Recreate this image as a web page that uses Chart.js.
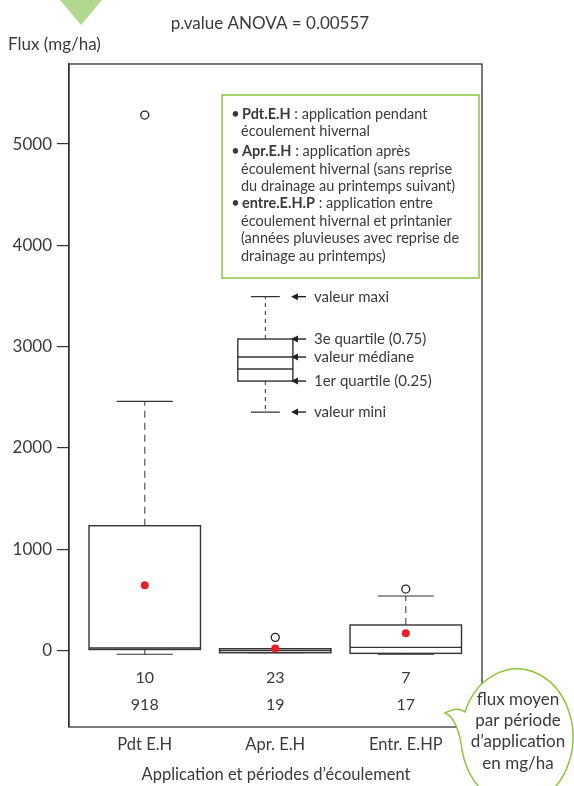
<!DOCTYPE html>
<html lang="fr">
<head>
<meta charset="utf-8">
<title>Flux par période d’application</title>
<script src="https://cdn.jsdelivr.net/npm/chart.js@4/dist/chart.umd.min.js"></script>
<style>
  html, body { margin: 0; padding: 0; background: #fff; }
  #wrap { position: relative; width: 574px; height: 786px; }
</style>
</head>
<body>
<div id="wrap"><canvas id="c" width="574" height="786"></canvas></div>
<script>
// Categories and box statistics (mg/ha)
const categories   = ['Pdt E.H', 'Apr. E.H', 'Entr. E.HP'];
const whiskerLow   = [-37, -22, -37];
const q1Values     = [10, -22, -28];
const medianValues = [25, 0, 31];
const q3Values     = [1232, 18, 252];
const whiskerHigh  = [2460, 18, 538];
const meanValues   = [644, 19, 170];
const outlierValues = [[5286], [130], [607]];
const countLabels  = ['10', '23', '7'];
const meanFluxLabels = ['918', '19', '17'];

// Y axis ticks
const yTicks = [0, 1000, 2000, 3000, 4000, 5000];

// Explanatory boxplot drawn inside the plot (values on the same y scale)
const exampleStats = { low: 2354, q1: 2660, median: 2897, extra: 2779, q3: 3075, high: 3493 };
const exampleLabels = [
  { text: 'valeur maxi', value: 3493 },
  { text: '3e quartile (0.75)', value: 3075 },
  { text: 'valeur médiane', value: 2897 },
  { text: '1er quartile (0.25)', value: 2660 },
  { text: 'valeur mini', value: 2354 }
];

// Legend text: [bold term, rest of line]
const legendLines = [
  ['Pdt.E.H', ' : application pendant'],
  [null, 'écoulement hivernal'],
  ['Apr.E.H', ' : application après'],
  [null, 'écoulement hivernal (sans reprise'],
  [null, 'du drainage au printemps suivant)'],
  ['entre.E.H.P', ' : application entre'],
  [null, 'écoulement hivernal et printanier'],
  [null, '(années pluvieuses avec reprise de'],
  [null, 'drainage au printemps)']
];
const bubbleLines = ['flux moyen', 'par période', 'd’application', 'en mg/ha'];

const FONT = 'Lato, "Open Sans", sans-serif';
const TEXT = '#3a3a3a';
const GREEN = '#8cc63f';

const outlierPoints = [];
outlierValues.forEach((arr, i) => arr.forEach(v => outlierPoints.push({ x: i + 1, y: v })));
const meanPoints = meanValues.map((v, i) => ({ x: i + 1, y: v }));

const boxPlugin = {
  id: 'boxes',
  beforeDatasetsDraw(chart) {
    const { ctx, scales: { x, y } } = chart;
    const drawBox = (cx, half, capHalf, s, dash, extraLine) => {
      const xl = x.getPixelForValue(cx - half), xr = x.getPixelForValue(cx + half);
      const xc = x.getPixelForValue(cx);
      const cl = x.getPixelForValue(cx - capHalf), cr = x.getPixelForValue(cx + capHalf);
      const yq1 = y.getPixelForValue(s.q1), yq3 = y.getPixelForValue(s.q3);
      const ylo = y.getPixelForValue(s.low), yhi = y.getPixelForValue(s.high);
      ctx.save();
      // whiskers
      ctx.strokeStyle = '#555';
      ctx.lineWidth = 1.2;
      ctx.setLineDash(dash);
      ctx.beginPath();
      ctx.moveTo(xc, yq3); ctx.lineTo(xc, yhi);
      ctx.moveTo(xc, yq1); ctx.lineTo(xc, ylo);
      ctx.stroke();
      ctx.setLineDash([]);
      ctx.strokeStyle = '#333';
      ctx.beginPath();
      ctx.moveTo(cl, yhi); ctx.lineTo(cr, yhi);
      ctx.moveTo(cl, ylo); ctx.lineTo(cr, ylo);
      ctx.stroke();
      // box
      ctx.lineWidth = 1.4;
      ctx.strokeStyle = '#333';
      ctx.fillStyle = '#fff';
      ctx.fillRect(xl, yq3, xr - xl, yq1 - yq3);
      ctx.strokeRect(xl, yq3, xr - xl, yq1 - yq3);
      // median
      ctx.beginPath();
      const ym = y.getPixelForValue(s.median);
      ctx.moveTo(xl, ym); ctx.lineTo(xr, ym);
      if (extraLine !== undefined) {
        const ye = y.getPixelForValue(extraLine);
        ctx.moveTo(xl, ye); ctx.lineTo(xr, ye);
      }
      ctx.stroke();
      ctx.restore();
    };
    categories.forEach((c, i) => {
      drawBox(i + 1, 0.427, 0.215, {
        low: whiskerLow[i], q1: q1Values[i], median: medianValues[i],
        q3: q3Values[i], high: whiskerHigh[i]
      }, [7, 5]);
    });
    drawBox(1.924, 0.211, 0.111, exampleStats, [4, 4], exampleStats.extra);
  },
  afterDraw(chart) {
    const { ctx, chartArea, scales: { x, y } } = chart;
    ctx.save();
    // plot frame
    ctx.strokeStyle = '#333';
    ctx.lineWidth = 1.3;
    ctx.strokeRect(chartArea.left, chartArea.top, chartArea.right - chartArea.left, chartArea.bottom - chartArea.top);

    // green marker at top
    ctx.fillStyle = '#b2d88f';
    ctx.beginPath();
    ctx.moveTo(60, 0); ctx.lineTo(102, 0); ctx.lineTo(81, 25); ctx.closePath();
    ctx.fill();

    ctx.fillStyle = TEXT;
    ctx.textBaseline = 'middle';
    ctx.font = '17px ' + FONT;
    ctx.textAlign = 'center';
    ctx.fillText('p.value ANOVA = 0.00557', 270, 24);
    ctx.textAlign = 'left';
    ctx.fillText('Flux (mg/ha)', 8, 45);

    // counts and mean flux per category
    ctx.font = '16px ' + FONT;
    ctx.textAlign = 'center';
    categories.forEach((c, i) => {
      const px = x.getPixelForValue(i + 1);
      ctx.fillText(countLabels[i], px, chartArea.bottom - 49);
      ctx.fillText(meanFluxLabels[i], px, chartArea.bottom - 22);
    });
    ctx.font = '16.5px ' + FONT;
    ctx.fillText('Application et périodes d’écoulement', 276, 775);

    // legend box
    ctx.strokeStyle = GREEN;
    ctx.lineWidth = 1.5;
    ctx.strokeRect(222, 95, 257, 183);
    const lineY = [114, 131.5, 151, 169, 186.5, 203.5, 221, 238.5, 256];
    legendLines.forEach((ln, i) => {
      let px = 241;
      if (ln[0]) {
        ctx.font = '14.5px ' + FONT;
        ctx.textAlign = 'center';
        ctx.fillText('•', 235.5, lineY[i]);
        ctx.textAlign = 'left';
        ctx.font = 'bold 14.5px ' + FONT;
        ctx.fillText(ln[0], 242, lineY[i]);
        px = 242 + ctx.measureText(ln[0]).width;
      }
      ctx.textAlign = 'left';
      ctx.font = '14.5px ' + FONT;
      ctx.fillText(ln[1], px, lineY[i]);
    });

    // labels for the explanatory boxplot
    ctx.strokeStyle = '#222';
    ctx.lineWidth = 1.4;
    exampleLabels.forEach(l => {
      const py = y.getPixelForValue(l.value);
      ctx.beginPath();
      ctx.moveTo(294, py); ctx.lineTo(306, py);
      ctx.stroke();
      ctx.beginPath();
      ctx.moveTo(291, py); ctx.lineTo(298, py - 3.5); ctx.lineTo(298, py + 3.5); ctx.closePath();
      ctx.fillStyle = '#222';
      ctx.fill();
      ctx.fillStyle = TEXT;
      ctx.font = '15px ' + FONT;
      ctx.fillText(l.text, 314, py);
    });
    ctx.restore();

    // speech bubble
    ctx.save();
    ctx.beginPath();
    const cx = 517, cy = 737, rx = 56, ry = 68;
    const a1 = Math.PI * 1.12, a2 = Math.PI * 0.93;
    ctx.ellipse(cx, cy, rx, ry, 0, a1, a2 + Math.PI * 2, false);
    ctx.quadraticCurveTo(458, 718, 445, 713);
    ctx.quadraticCurveTo(458, 706, cx + rx * Math.cos(a1), cy + ry * Math.sin(a1));
    ctx.closePath();
    ctx.fillStyle = '#fff';
    ctx.fill();
    ctx.strokeStyle = GREEN;
    ctx.lineWidth = 1.5;
    ctx.stroke();
    ctx.fillStyle = TEXT;
    ctx.font = '17px ' + FONT;
    ctx.textAlign = 'center';
    ctx.textBaseline = 'middle';
    const by = [700, 721, 742, 764];
    bubbleLines.forEach((t, i) => ctx.fillText(t, 518, by[i]));
    ctx.restore();
  }
};

new Chart(document.getElementById('c'), {
  type: 'scatter',
  data: {
    datasets: [
      {
        label: 'outliers',
        data: outlierPoints,
        pointRadius: 4,
        pointHoverRadius: 4,
        pointBackgroundColor: '#fff',
        pointBorderColor: '#222',
        pointBorderWidth: 1.3
      },
      {
        label: 'moyenne',
        data: meanPoints,
        pointRadius: 4,
        pointHoverRadius: 4,
        pointBackgroundColor: '#e8202a',
        pointBorderColor: '#e8202a',
        pointBorderWidth: 0
      }
    ]
  },
  options: {
    responsive: false,
    devicePixelRatio: 1,
    animation: false,
    events: [],
    layout: { padding: { left: 0, top: 64, right: 92, bottom: 0 } },
    plugins: { legend: { display: false }, tooltip: { enabled: false } },
    scales: {
      x: {
        type: 'linear',
        min: 0.4195,
        max: 3.584,
        afterBuildTicks: s => { s.ticks = categories.map((c, i) => ({ value: i + 1 })); },
        afterFit: s => { s.height = 59; },
        grid: { display: false, drawTicks: false, tickLength: 0 },
        border: { display: false },
        ticks: {
          autoSkip: false,
          maxRotation: 0,
          padding: 8,
          color: TEXT,
          font: { family: FONT, size: 16.5 },
          callback: v => categories[Math.round(v) - 1] || ''
        }
      },
      y: {
        type: 'linear',
        min: -755,
        max: 5790,
        afterBuildTicks: s => { s.ticks = yTicks.map(v => ({ value: v })); },
        afterFit: s => { s.width = 69; },
        grid: { drawOnChartArea: false, drawTicks: true, tickLength: 12, color: '#333', lineWidth: 1.2 },
        border: { display: true, color: '#333', width: 1.3 },
        ticks: {
          padding: 5,
          color: TEXT,
          font: { family: FONT, size: 17 },
          callback: v => String(v)
        }
      }
    }
  },
  plugins: [boxPlugin]
});
</script>
</body>
</html>
